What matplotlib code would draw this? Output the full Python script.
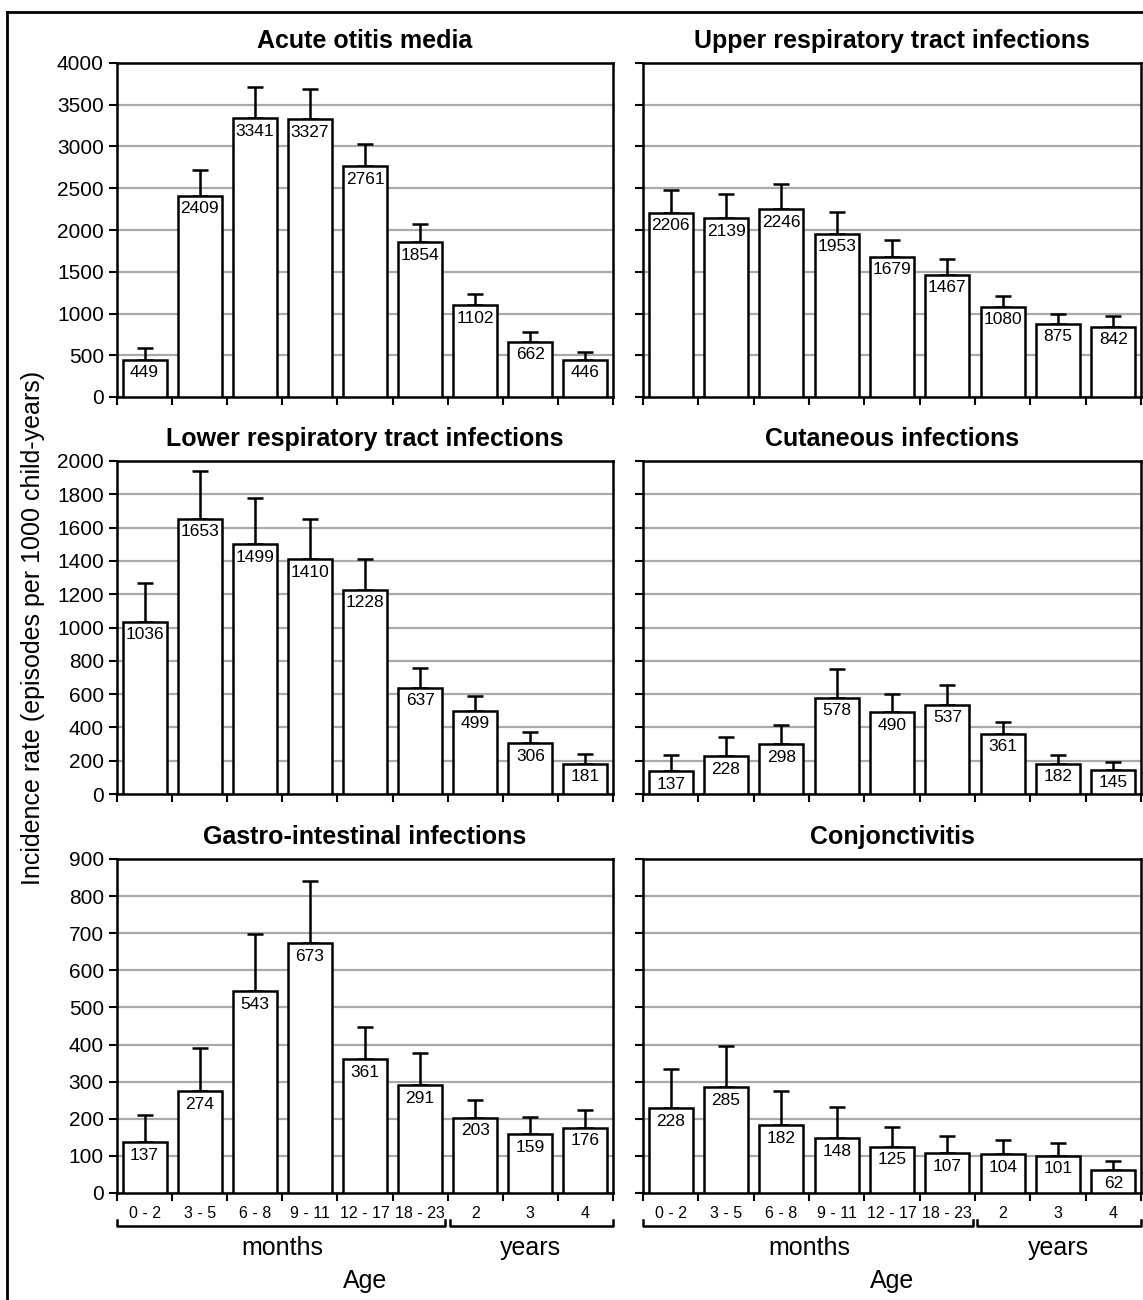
import numpy as np
import matplotlib
matplotlib.use("Agg")
import matplotlib.pyplot as plt
from matplotlib import font_manager
from matplotlib.lines import Line2D
from matplotlib.transforms import blended_transform_factory

plt.rcParams['font.family'] = ['Liberation Sans', 'DejaVu Sans']

# police étroite pour les valeurs et les âges (si disponible)
noms = set(f.name for f in font_manager.fontManager.ttflist)
if 'Liberation Sans Narrow' in noms:
    etroite = dict(family='Liberation Sans Narrow')
    taille_val, taille_age = 13, 13.5
else:
    etroite = dict(family=['Liberation Sans', 'DejaVu Sans'])
    taille_val, taille_age = 12.5, 11.5

ages = ["0 - 2", "3 - 5", "6 - 8", "9 - 11", "12 - 17", "18 - 23", "2", "3", "4"]

otite = [449, 2409, 3341, 3327, 2761, 1854, 1102, 662, 446]
otite_sup = [587, 2722, 3712, 3688, 3030, 2075, 1229, 774, 535]

ivrs = [2206, 2139, 2246, 1953, 1679, 1467, 1080, 875, 842]
ivrs_sup = [2483, 2427, 2555, 2216, 1884, 1653, 1210, 998, 970]

ivri = [1036, 1653, 1499, 1410, 1228, 637, 499, 306, 181]
ivri_sup = [1267, 1942, 1776, 1652, 1411, 757, 589, 372, 240]

cutane = [137, 228, 298, 578, 490, 537, 361, 182, 145]
cutane_sup = [232, 342, 414, 751, 599, 655, 434, 236, 194]

gastro = [137, 274, 543, 673, 361, 291, 203, 159, 176]
gastro_sup = [211, 391, 699, 840, 446, 378, 251, 204, 223]

conj = [228, 285, 182, 148, 125, 107, 104, 101, 62]
conj_sup = [333, 396, 275, 233, 178, 154, 142, 136, 87]

panneaux = [
    ("Acute otitis media", otite, otite_sup, 4000, 500),
    ("Upper respiratory tract infections", ivrs, ivrs_sup, 4000, 500),
    ("Lower respiratory tract infections", ivri, ivri_sup, 2000, 200),
    ("Cutaneous infections", cutane, cutane_sup, 2000, 200),
    ("Gastro-intestinal infections", gastro, gastro_sup, 900, 100),
    ("Conjonctivitis", conj, conj_sup, 900, 100),
]

W, H = 1143, 1300
fig = plt.figure(figsize=(W / 100, H / 100), dpi=100)

colonnes = [(117, 613), (643, 1141)]
lignes = [(63, 397), (461, 794), (859, 1193)]

x = np.arange(len(ages))
for i, (titre, vals, sup, ymax, pas) in enumerate(panneaux):
    ligne, col = i // 2, i % 2
    x0, x1 = colonnes[col]
    y0, y1 = lignes[ligne]
    ax = fig.add_axes([x0 / W, 1 - y1 / H, (x1 - x0) / W, (y1 - y0) / H])

    vals = np.array(vals)
    err = np.array(sup) - vals
    ax.bar(x, vals, width=0.8, color='white', edgecolor='black', linewidth=1.8, zorder=3)
    ax.errorbar(x, vals, yerr=[np.zeros_like(err), err], fmt='none', ecolor='black',
                elinewidth=1.8, capsize=6, capthick=1.8, zorder=2)
    for xi, v in zip(x, vals):
        ax.annotate(str(v), (xi, v), xytext=(0, -4), textcoords='offset points',
                    ha='center', va='top', fontsize=taille_val, zorder=4, **etroite)

    ax.set_xlim(-0.5, 8.5)
    ax.set_ylim(0, ymax)
    ax.set_yticks(np.arange(0, ymax + 1, pas))
    ax.yaxis.grid(True, color='#aaaaaa', linewidth=1.6)
    ax.set_axisbelow(True)
    for s in ax.spines.values():
        s.set_linewidth(1.8)
    ax.tick_params(axis='y', direction='out', length=6, width=1.5, labelsize=15)
    if col == 1:
        ax.set_yticklabels([])

    ax.set_xticks(np.arange(-0.5, 9, 1))
    ax.set_xticklabels([])
    ax.tick_params(axis='x', which='major', direction='out', length=6, width=1.5)
    ax.set_title(titre, fontsize=18, fontweight='bold', pad=11)

    if ligne == 2:
        ax.set_xticks(x, minor=True)
        ax.set_xticklabels(ages, minor=True, fontsize=taille_age, **etroite)
        ax.tick_params(axis='x', which='minor', length=0, pad=9)
        tr = blended_transform_factory(ax.transData, ax.transAxes)
        # accolades sous les âges
        for a, b in [(-0.5, 5.46), (5.54, 8.5)]:
            ax.plot([a, a, b, b], [-0.081, -0.099, -0.099, -0.081], color='black',
                    linewidth=1.8, transform=tr, clip_on=False)
        ax.text(2.5, -0.165, "months", transform=tr, ha='center', va='center', fontsize=18)
        ax.text(7, -0.165, "years", transform=tr, ha='center', va='center', fontsize=18)
        ax.text(0.5, -0.262, "Age", transform=ax.transAxes, ha='center', va='center', fontsize=18)

fig.text(33 / W, 1 - 628 / H, "Incidence rate (episodes per 1000 child-years)",
         rotation=90, ha='center', va='center', fontsize=18)

# cadre partiel de la figure
fig.add_artist(Line2D([7 / W, 1], [1 - 12 / H, 1 - 12 / H], color='black', linewidth=2,
                      transform=fig.transFigure))
fig.add_artist(Line2D([7 / W, 7 / W], [0, 1 - 12 / H], color='black', linewidth=2,
                      transform=fig.transFigure))

fig.savefig('out.png', dpi=100)
